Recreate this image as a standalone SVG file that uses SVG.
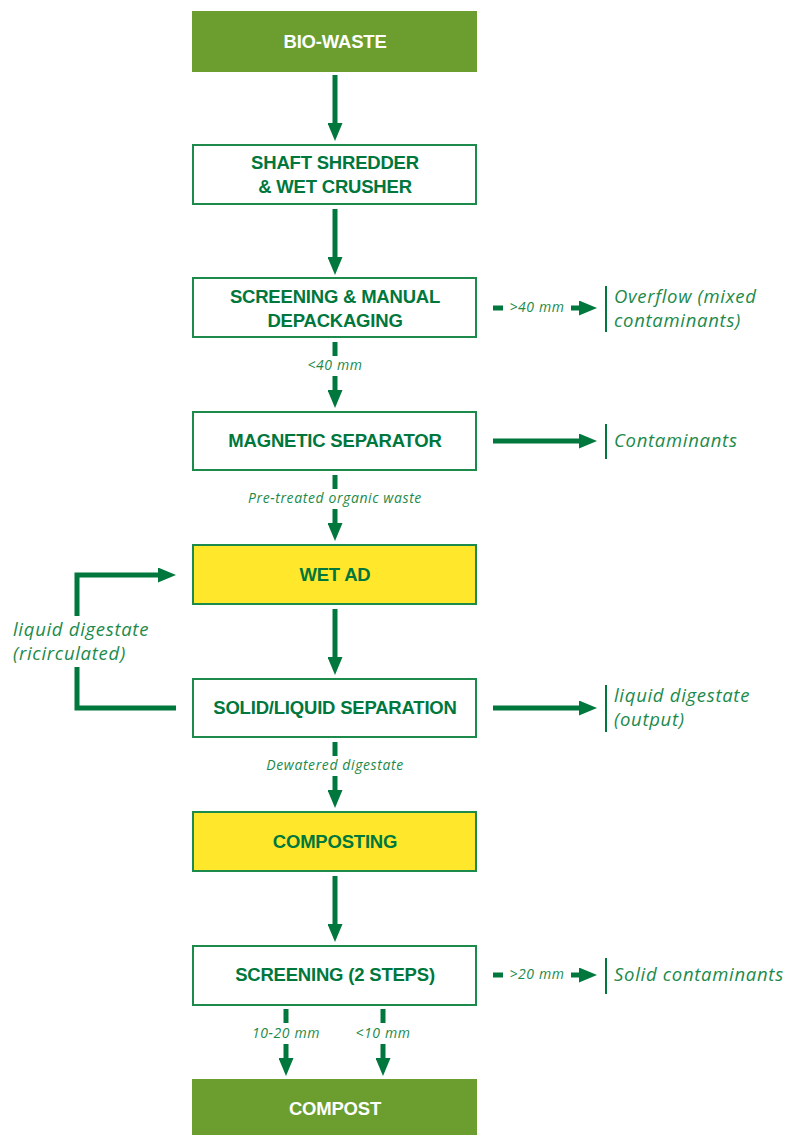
<svg xmlns="http://www.w3.org/2000/svg" width="790" height="1135" viewBox="0 0 790 1135">
<defs>
<style>
.box{fill:#fff;stroke:#1c8a4b;stroke-width:2}
.term{fill:#6b9e2f}
.yel{fill:#ffe82c;stroke:#1c8a4b;stroke-width:2}
.t{font-family:"Liberation Sans",Arial,sans-serif;font-weight:700;font-size:18.5px;fill:#00773c;text-anchor:middle;letter-spacing:-0.2px}
.tw{fill:#fff}
.lbl{font-family:"Open Sans","Liberation Sans",sans-serif;font-style:italic;font-size:14px;fill:#1c8a4b;text-anchor:middle;letter-spacing:0.6px}
.out{font-family:"Open Sans","Liberation Sans",sans-serif;font-style:italic;font-size:18.5px;fill:#1c8a4b;letter-spacing:0.7px}
.ln{stroke:#00773c;stroke-width:5;fill:none}
.bar{stroke:#00773c;stroke-width:2}
</style>
<marker id="ah" markerUnits="userSpaceOnUse" markerWidth="18" markerHeight="15" viewBox="0 0 18 15" refX="0" refY="7.5" orient="auto">
<path d="M0,0 L18,7.5 L0,15 z" fill="#00773c"/>
</marker>
</defs>

<g id="connectors">
<path class="ln" d="M335,75 V123" marker-end="url(#ah)"/>
<path class="ln" d="M335,209 V257" marker-end="url(#ah)"/>
<path class="ln" d="M335,342 V356"/>
<path class="ln" d="M335,376 V390" marker-end="url(#ah)"/>
<path class="ln" d="M335,475 V489"/>
<path class="ln" d="M335,509 V523" marker-end="url(#ah)"/>
<path class="ln" d="M335,609 V657" marker-end="url(#ah)"/>
<path class="ln" d="M335,742 V756"/>
<path class="ln" d="M335,776 V790" marker-end="url(#ah)"/>
<path class="ln" d="M335,876 V924" marker-end="url(#ah)"/>
<path class="ln" d="M286,1009 V1023"/>
<path class="ln" d="M286,1044 V1058" marker-end="url(#ah)"/>
<path class="ln" d="M383,1009 V1023"/>
<path class="ln" d="M383,1044 V1058" marker-end="url(#ah)"/>
<path class="ln" d="M176,708 H77 V667"/>
<path class="ln" d="M77,616 V575 H158" marker-end="url(#ah)"/>
<path class="ln" d="M493,308 H503"/>
<path class="ln" d="M571,308 H579" marker-end="url(#ah)"/>
<path class="ln" d="M493,441 H579" marker-end="url(#ah)"/>
<path class="ln" d="M493,708 H579" marker-end="url(#ah)"/>
<path class="ln" d="M493,975 H503"/>
<path class="ln" d="M571,975 H579" marker-end="url(#ah)"/>
<line class="bar" x1="606" y1="286" x2="606" y2="332"/>
<line class="bar" x1="606" y1="424" x2="606" y2="459"/>
<line class="bar" x1="606" y1="685" x2="606" y2="732"/>
<line class="bar" x1="606" y1="958" x2="606" y2="994"/>
<text class="lbl" x="335" y="370">&lt;40 mm</text>
<text class="lbl" x="335" y="503">Pre-treated organic waste</text>
<text class="lbl" x="335" y="770">Dewatered digestate</text>
<text class="lbl" x="286" y="1038">10-20 mm</text>
<text class="lbl" x="383" y="1038">&lt;10 mm</text>
<text class="lbl" x="537" y="312">&gt;40 mm</text>
<text class="lbl" x="537" y="979">&gt;20 mm</text>
<text class="out" x="13" y="636">liquid digestate</text>
<text class="out" x="13" y="660">(ricirculated)</text>
<text class="out" x="614" y="303">Overflow (mixed</text>
<text class="out" x="614" y="327">contaminants)</text>
<text class="out" x="614" y="447">Contaminants</text>
<text class="out" x="614" y="702">liquid digestate</text>
<text class="out" x="614" y="726">(output)</text>
<text class="out" x="614" y="981">Solid contaminants</text>
</g>

<g id="bio-waste">
<rect class="term" x="192" y="11" width="285" height="61"/>
<text class="t tw" x="335" y="48">BIO-WASTE</text>
</g>
<g id="shredder">
<rect class="box" x="193" y="145" width="283" height="59"/>
<text class="t" x="335" y="169">SHAFT SHREDDER</text>
<text class="t" x="335" y="193">&amp; WET CRUSHER</text>
</g>
<g id="screening">
<rect class="box" x="193" y="278" width="283" height="59"/>
<text class="t" x="335" y="303">SCREENING &amp; MANUAL</text>
<text class="t" x="335" y="327">DEPACKAGING</text>
</g>
<g id="magnetic">
<rect class="box" x="193" y="412" width="283" height="58"/>
<text class="t" x="335" y="447">MAGNETIC SEPARATOR</text>
</g>
<g id="wet-ad">
<rect class="yel" x="193" y="545" width="283" height="59"/>
<text class="t" x="335" y="581">WET AD</text>
</g>
<g id="solid-liquid">
<rect class="box" x="193" y="679" width="283" height="58"/>
<text class="t" x="335" y="714">SOLID/LIQUID SEPARATION</text>
</g>
<g id="composting">
<rect class="yel" x="193" y="812" width="283" height="59"/>
<text class="t" x="335" y="848">COMPOSTING</text>
</g>
<g id="screening2">
<rect class="box" x="193" y="946" width="283" height="59"/>
<text class="t" x="335" y="981">SCREENING (2 STEPS)</text>
</g>
<g id="compost">
<rect class="term" x="192" y="1079" width="285" height="56"/>
<text class="t tw" x="335" y="1115">COMPOST</text>
</g>
</svg>
